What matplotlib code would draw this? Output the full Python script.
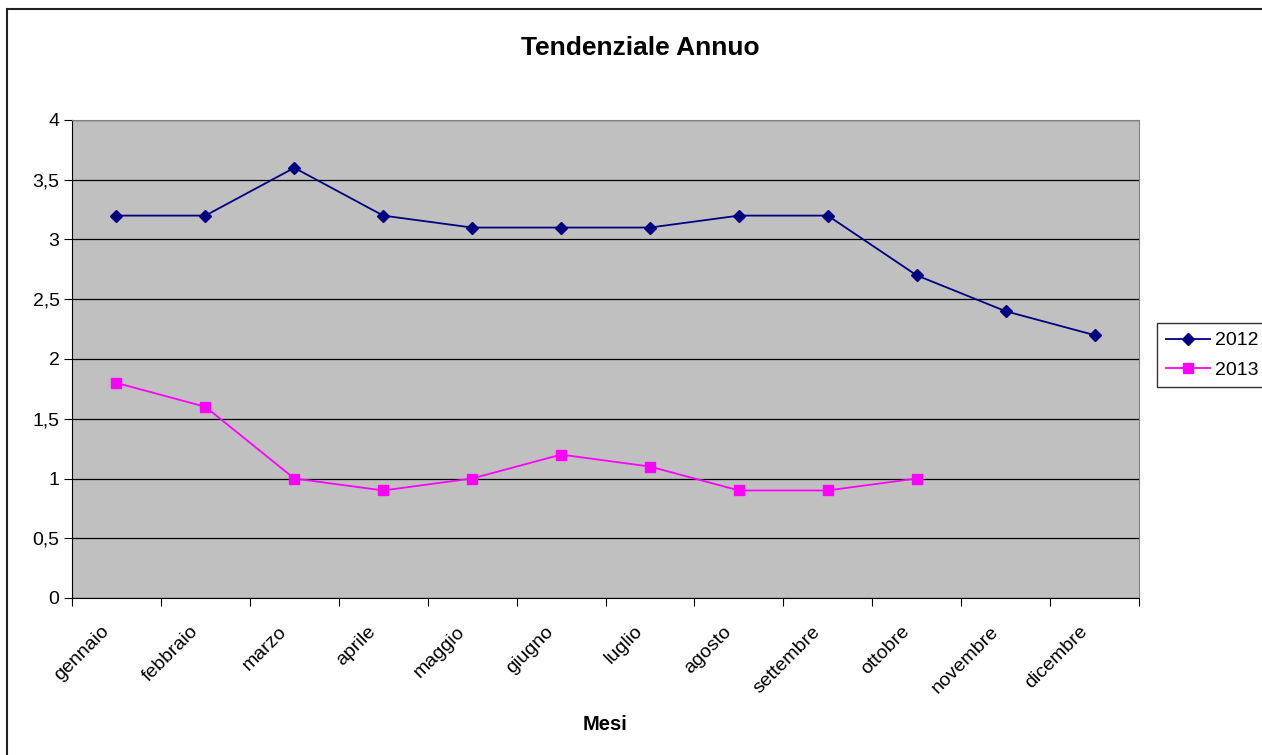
import matplotlib
matplotlib.use("Agg")

import matplotlib.pyplot as plt
from matplotlib.patches import Rectangle
from matplotlib.ticker import FuncFormatter, MultipleLocator
from matplotlib.transforms import blended_transform_factory, offset_copy

MONTHS = ["gennaio", "febbraio", "marzo", "aprile", "maggio", "giugno",
          "luglio", "agosto", "settembre", "ottobre", "novembre", "dicembre"]
VALUES_2012 = [3.2, 3.2, 3.6, 3.2, 3.1, 3.1, 3.1, 3.2, 3.2, 2.7, 2.4, 2.2]
VALUES_2013 = [1.8, 1.6, 1.0, 0.9, 1.0, 1.2, 1.1, 0.9, 0.9, 1.0]

NAVY = "#000080"
MAGENTA = "#FF00FF"
PLOT_BG = "#C0C0C0"

plt.rcParams["font.family"] = ["Liberation Sans", "DejaVu Sans"]

W, H = 1262, 755
fig = plt.figure(figsize=(W / 100, H / 100), dpi=100)
ax = fig.add_axes([72 / W, 1 - 598 / H, (1139 - 72) / W, (598 - 120) / H])
ax.set_facecolor(PLOT_BG)

x12 = range(len(VALUES_2012))
x13 = range(len(VALUES_2013))
ax.plot(x12, VALUES_2012, color=NAVY, lw=1.3, marker="D", ms=6.5, label="2012", zorder=3)
ax.plot(x13, VALUES_2013, color=MAGENTA, lw=1.3, marker="s", ms=6.5, label="2013", zorder=3)

ax.set_xlim(-0.5, len(MONTHS) - 0.5)
ax.set_ylim(0, 4)
ax.yaxis.set_major_locator(MultipleLocator(0.5))
ax.yaxis.set_major_formatter(FuncFormatter(lambda v, _: f"{v:g}".replace(".", ",")))
ax.grid(axis="y", color="black", lw=0.9)
ax.set_axisbelow(True)

# category ticks between the months; month names drawn under the centres
ax.set_xticks([i - 0.5 for i in range(len(MONTHS) + 1)])
ax.set_xticklabels([])
ax.tick_params(axis="x", length=6, direction="out", color="black")
ax.tick_params(axis="y", length=6, direction="out", labelsize=14, pad=3)

lbl_tr = offset_copy(blended_transform_factory(ax.transData, ax.transAxes),
                     fig=fig, x=-10, y=-31, units="dots")
for i, name in enumerate(MONTHS):
    ax.text(i, 0, name, transform=lbl_tr, rotation=45, rotation_mode="anchor",
            ha="right", va="center", fontsize=14, clip_on=False)

for side in ("left", "bottom"):
    ax.spines[side].set_color("black")
for side in ("top", "right"):
    ax.spines[side].set_color("#808080")

fig.text(605 / W, 1 - 725 / H, "Mesi", ha="center", va="center",
         fontsize=14.5, fontweight="bold")
fig.text(640 / W, 1 - 48 / H, "Tendenziale Annuo", ha="center", va="center",
         fontsize=19, fontweight="bold")

leg = fig.legend(loc="upper left", bbox_to_anchor=(1157 / W, 1 - 323 / H),
                 fontsize=14, frameon=True, fancybox=False, edgecolor="black",
                 borderpad=0.45, handlelength=2.3, handletextpad=0.25,
                 labelspacing=0.6, borderaxespad=0)
leg.get_frame().set_linewidth(1.0)

fig.patches.append(Rectangle((7 / W, -0.05), 1.05, 1 - 9 / H + 0.05, transform=fig.transFigure,
                             fill=False, edgecolor="#222222", lw=1.5, clip_on=False))

fig.savefig("out.png", dpi=100)
